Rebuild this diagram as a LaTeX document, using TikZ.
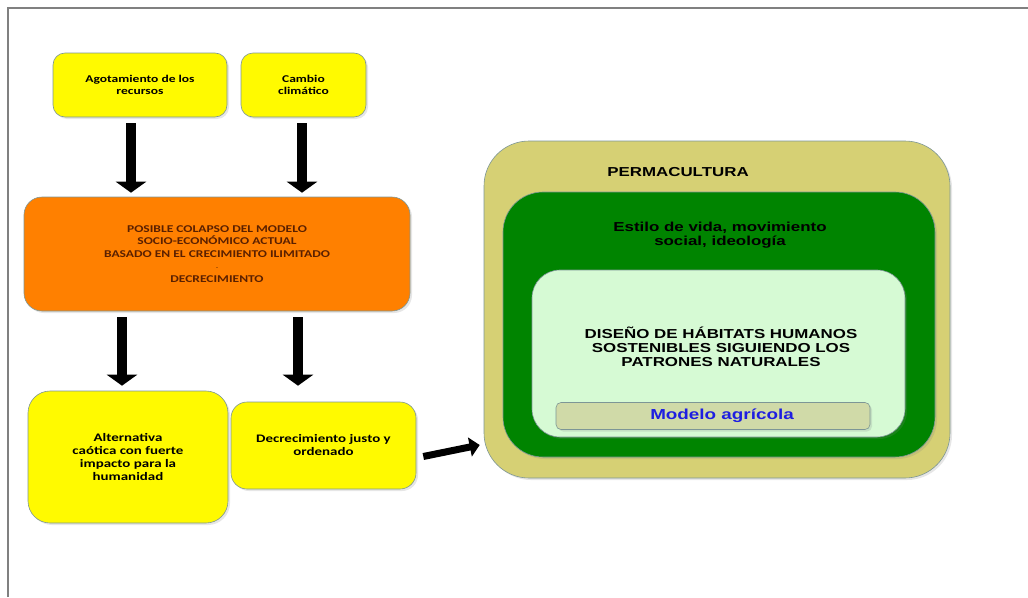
\documentclass[tikz,border=0pt]{standalone}
\usepackage{fontspec}
\setmainfont{Carlito}[FakeStretch=1.3]
\newfontfamily\arialfont{Liberation Sans}[FakeStretch=1.3]
\usetikzlibrary{arrows.meta,shadows}

\definecolor{amarillo}{RGB}{255,250,0}
\definecolor{naranja}{RGB}{255,128,0}
\definecolor{marron}{RGB}{90,32,0}
\definecolor{oliva}{RGB}{214,208,116}
\definecolor{verde}{RGB}{0,132,0}
\definecolor{verdeclaro}{RGB}{214,250,212}
\definecolor{grisoliva}{RGB}{208,218,168}
\definecolor{azul}{RGB}{30,30,225}
\definecolor{borde}{RGB}{125,150,150}

\begin{document}
\begin{tikzpicture}[x=1pt,y=-1pt]
    \tikzstyle{caja}=[rectangle, draw=borde, line width=0.6pt, inner sep=0pt,
      drop shadow={opacity=0.2, shadow xshift=2pt, shadow yshift=-2pt}]
    \tikzstyle{amarilla}=[caja, fill=amarillo, align=center]
    \tikzstyle{texto}=[align=center, inner sep=0pt]
    \tikzstyle{flecha}=[line width=10pt, -{Triangle[width=30pt,length=11pt]}]
    \tikzstyle{flechita}=[line width=7pt, -{Triangle[width=19pt,length=10pt]}]

    \useasboundingbox (0,0) rectangle (1028,597);
    \draw[gray, line width=1.5pt] (8,597) -- (8,8) -- (1028,8);

    % left column
    \node[amarilla, rounded corners=12pt, minimum width=174pt, minimum height=64pt,
      font=\fontsize{10.4}{12}\selectfont\bfseries] (agot) at (140,85)
      {Agotamiento de los\\recursos};
    \node[amarilla, rounded corners=12pt, minimum width=125pt, minimum height=64pt,
      font=\fontsize{10.4}{12}\selectfont\bfseries] (clima) at (303.5,85)
      {Cambio\\climático};
    \node[caja, fill=naranja, rounded corners=18pt, minimum width=386pt, minimum height=114pt,
      align=center, text=marron, font=\fontsize{10.4}{12.5}\selectfont\bfseries] (colapso) at (217,254)
      {POSIBLE COLAPSO DEL MODELO\\SOCIO-ECONÓMICO ACTUAL\\BASADO EN EL CRECIMIENTO ILIMITADO\\
       {\tiny -}\\DECRECIMIENTO};
    \node[amarilla, rounded corners=22pt, minimum width=200pt, minimum height=132pt,
      font=\fontsize{11.5}{13.3}\selectfont\bfseries] (caotica) at (128,457)
      {Alternativa\\caótica con fuerte\\impacto para la\\humanidad};
    \node[amarilla, rounded corners=16pt, minimum width=185pt, minimum height=87pt,
      font=\fontsize{11.5}{13}\selectfont\bfseries] (justo) at (323.5,445.5)
      {Decrecimiento justo y\\ordenado};

    % permacultura
    \node[caja, fill=oliva, rounded corners=45pt, minimum width=466pt, minimum height=337pt] (perma) at (717,309.5) {};
    \node[caja, fill=verde, rounded corners=40pt, minimum width=432pt, minimum height=265pt] (estilo) at (719,324.5) {};
    \node[caja, fill=verdeclaro, rounded corners=28pt, minimum width=373pt, minimum height=167pt] (diseno) at (718.5,353.5) {};
    \node[caja, fill=grisoliva, rounded corners=5pt, minimum width=314pt, minimum height=27pt] (agricola) at (713,416) {};

    \node[texto, font=\arialfont\fontsize{13}{14}\selectfont\bfseries] (tperma) at (678,172) {PERMACULTURA};
    \node[texto, font=\arialfont\fontsize{13}{14}\selectfont\bfseries] (testilo) at (720,235)
      {Estilo de vida, movimiento\\social, ideología};
    \node[texto, font=\arialfont\fontsize{13}{14}\selectfont\bfseries] (tdiseno) at (721,347)
      {DISEÑO DE HÁBITATS HUMANOS\\SOSTENIBLES SIGUIENDO LOS\\PATRONES NATURALES};
    \node[texto, text=azul, font=\arialfont\fontsize{14.5}{16}\selectfont\bfseries] (tagricola) at (722,416)
      {Modelo agrícola};

    % arrows
    \path ([xshift=-9pt]agot.south) coordinate (f1)
          ([xshift=-1.5pt]clima.south) coordinate (f2)
          ([xshift=-95pt]colapso.south) coordinate (f3)
          ([xshift=81pt]colapso.south) coordinate (f4);
    \draw[flecha, shorten <=6pt, shorten >=4pt] (f1) -- (f1 |- colapso.north);
    \draw[flecha, shorten <=6pt, shorten >=4pt] (f2) -- (f2 |- colapso.north);
    \draw[flecha, shorten <=6pt, shorten >=5pt] (f3) -- (f3 |- caotica.north);
    \draw[flecha, shorten <=6pt, shorten >=16pt] (f4) -- (f4 |- justo.north);
    \draw[flechita] ([shift={(7,11)}]justo.east) -- ([shift={(-4,135.5)}]perma.west);
\end{tikzpicture}
\end{document}
